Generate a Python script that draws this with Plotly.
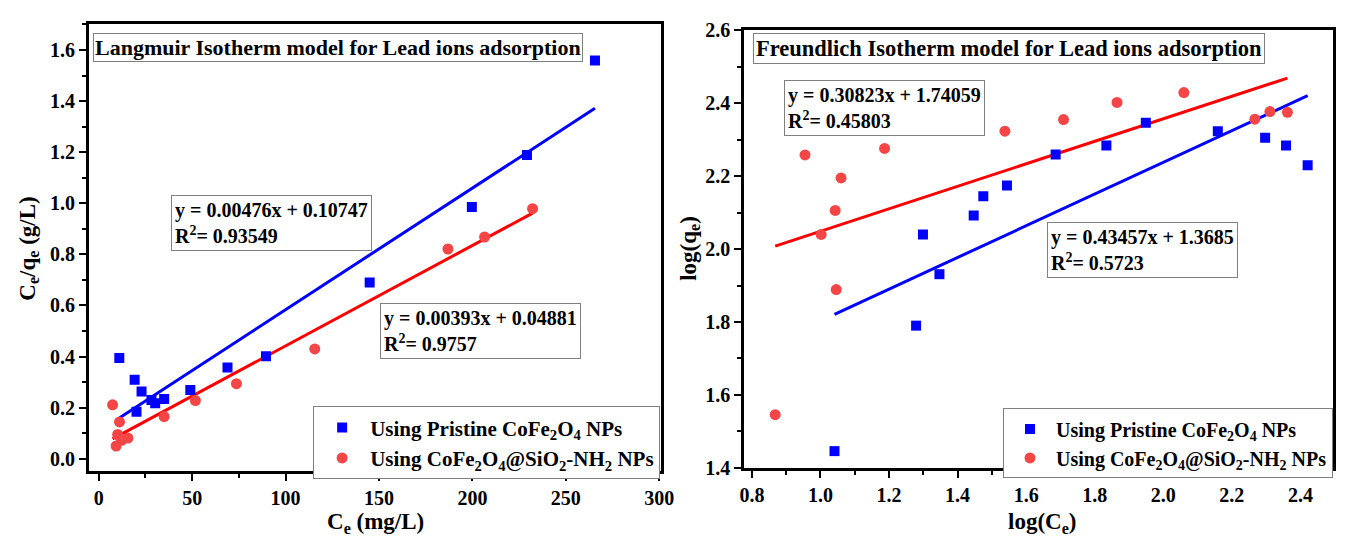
import plotly.graph_objects as go

W, H = 1347, 548

# ---------------- Langmuir data ----------------
lang_ce_pristine = [11.0, 19.2, 20.2, 22.9, 28.2, 30.2, 35.0, 49.0, 68.9, 89.5, 145.0, 199.7, 229.2, 265.6]
lang_ratio_pristine = [0.394, 0.309, 0.184, 0.263, 0.230, 0.217, 0.234, 0.269, 0.357, 0.401, 0.690, 0.985, 1.189, 1.559]
lang_ce_coated = [7.4, 11.1, 10.1, 9.3, 15.6, 12.2, 35.0, 51.7, 73.7, 115.6, 186.9, 206.5, 232.2]
lang_ratio_coated = [0.211, 0.144, 0.095, 0.050, 0.081, 0.072, 0.165, 0.228, 0.294, 0.430, 0.821, 0.868, 0.979]
lang_fit_pristine = [0.00476, 0.10747]
lang_fit_coated = [0.00393, 0.04881]

# ---------------- Freundlich data ----------------
fr_logce_pristine = [1.041, 1.279, 1.299, 1.347, 1.447, 1.475, 1.544, 1.686, 1.834, 1.949, 2.159, 2.297, 2.358, 2.421]
fr_logq_pristine = [1.446, 1.790, 2.040, 1.931, 2.092, 2.145, 2.174, 2.259, 2.284, 2.346, 2.323, 2.305, 2.284, 2.230]
fr_logce_coated = [0.868, 0.955, 1.002, 1.043, 1.046, 1.060, 1.187, 1.538, 1.709, 1.865, 2.060, 2.267, 2.311, 2.362]
fr_logq_coated = [1.546, 2.258, 2.040, 2.106, 1.889, 2.195, 2.276, 2.323, 2.355, 2.402, 2.429, 2.356, 2.377, 2.375]
fr_fit_pristine = [0.43457, 1.3685]
fr_fit_coated = [0.30823, 1.74059]

lang_ticks_x = [0, 50, 100, 150, 200, 250, 300]
lang_ticks_y = [0, 0.2, 0.4, 0.6, 0.8, 1.0, 1.2, 1.4, 1.6]
fr_ticks_x = [0.8, 1.0, 1.2, 1.4, 1.6, 1.8, 2.0, 2.2, 2.4]
fr_ticks_y = [1.4, 1.6, 1.8, 2.0, 2.2, 2.4, 2.6]

name_pristine = "Using Pristine CoFe<sub>2</sub>O<sub>4</sub> NPs"
name_coated = "Using CoFe<sub>2</sub>O<sub>4</sub>@SiO<sub>2</sub>-NH<sub>2</sub> NPs"

BLUE = "#0000FF"
RED_M = "#F44646"
RED_L = "#FF0000"
FONT = "Liberation Serif"

fig = go.Figure()


def fit_line(xs, coef):
    x0, x1 = min(xs), max(xs)
    return [x0, x1], [coef[0] * x0 + coef[1], coef[0] * x1 + coef[1]]


# Langmuir traces
lx, ly = fit_line(lang_ce_pristine, lang_fit_pristine)
fig.add_trace(go.Scatter(x=lx, y=ly, mode="lines", line=dict(color=BLUE, width=3),
                         showlegend=False, xaxis="x", yaxis="y"))
lx, ly = fit_line(lang_ce_coated, lang_fit_coated)
fig.add_trace(go.Scatter(x=lx, y=ly, mode="lines", line=dict(color=RED_L, width=3),
                         showlegend=False, xaxis="x", yaxis="y"))
fig.add_trace(go.Scatter(x=lang_ce_pristine, y=lang_ratio_pristine, mode="markers", name=name_pristine,
                         marker=dict(symbol="square", size=10, color=BLUE), xaxis="x", yaxis="y",
                         legend="legend"))
fig.add_trace(go.Scatter(x=lang_ce_coated, y=lang_ratio_coated, mode="markers", name=name_coated,
                         marker=dict(symbol="circle", size=11, color=RED_M), xaxis="x", yaxis="y",
                         legend="legend"))

# Freundlich traces
lx, ly = fit_line(fr_logce_pristine, fr_fit_pristine)
fig.add_trace(go.Scatter(x=lx, y=ly, mode="lines", line=dict(color=BLUE, width=3),
                         showlegend=False, xaxis="x2", yaxis="y2"))
lx, ly = fit_line(fr_logce_coated, fr_fit_coated)
fig.add_trace(go.Scatter(x=lx, y=ly, mode="lines", line=dict(color=RED_L, width=3),
                         showlegend=False, xaxis="x2", yaxis="y2"))
fig.add_trace(go.Scatter(x=fr_logce_pristine, y=fr_logq_pristine, mode="markers", name=name_pristine,
                         marker=dict(symbol="square", size=10, color=BLUE), xaxis="x2", yaxis="y2",
                         legend="legend2"))
fig.add_trace(go.Scatter(x=fr_logce_coated, y=fr_logq_coated, mode="markers", name=name_coated,
                         marker=dict(symbol="circle", size=11, color=RED_M), xaxis="x2", yaxis="y2",
                         legend="legend2"))

minor_common = dict(ticks="outside", ticklen=4, tickwidth=2, tickcolor="black")
axis_common = dict(showline=True, linecolor="black", linewidth=2.5, mirror=True,
                   ticks="outside", ticklen=7, tickwidth=2, tickcolor="black",
                   showgrid=False, zeroline=False,
                   tickfont=dict(family=FONT, size=20, color="black", weight="bold"))

fig.update_layout(
    width=W, height=H,
    margin=dict(l=0, r=0, t=0, b=0),
    paper_bgcolor="white", plot_bgcolor="white",
    font=dict(family=FONT, color="black", weight="bold"),
    xaxis=dict(domain=[85 / W, 665 / W], anchor="y", range=[-5.3, 301],
               tickvals=lang_ticks_x, minor=dict(dtick=25, **minor_common), **axis_common),
    yaxis=dict(domain=[1 - 479 / H, 1 - 14 / H], anchor="x", range=[-0.047, 1.70],
               tickvals=lang_ticks_y, ticktext=[f"{v:.1f}" for v in lang_ticks_y],
               minor=dict(dtick=0.1, **minor_common), **axis_common),
    xaxis2=dict(domain=[749 / W, 1346 / W], anchor="y2", range=[0.777, 2.495],
                tickvals=fr_ticks_x, ticktext=[f"{v:.1f}" for v in fr_ticks_x],
                minor=dict(dtick=0.1, **minor_common), **axis_common),
    yaxis2=dict(domain=[1 - 476 / H, 1 - 20 / H], anchor="x2", range=[1.4, 2.6],
                tickvals=fr_ticks_y, ticktext=[f"{v:.1f}" for v in fr_ticks_y],
                minor=dict(dtick=0.1, **minor_common), **axis_common),
    legend=dict(x=664 / W, y=1 - 412 / H, xanchor="right", yanchor="top",
                bgcolor="white", bordercolor="#808080", borderwidth=1, itemwidth=46,
                font=dict(family=FONT, size=21, color="black", weight="bold"),
                tracegroupgap=0),
    legend2=dict(x=1346 / W, y=1 - 414 / H, xanchor="right", yanchor="top",
                 bgcolor="white", bordercolor="#808080", borderwidth=1, itemwidth=42,
                 font=dict(family=FONT, size=20, color="black", weight="bold"),
                 tracegroupgap=0),
)


def box(text, x0, y0, size=20, pad=3):
    fig.add_annotation(text=text, xref="paper", yref="paper", x=x0 / W, y=1 - y0 / H,
                       xanchor="left", yanchor="top", align="left", showarrow=False,
                       bordercolor="#808080", borderwidth=1, borderpad=pad, bgcolor="white",
                       font=dict(family=FONT, size=size, color="black", weight="bold"))


def label(text, xc, yc, angle=0, size=23):
    fig.add_annotation(text=text, xref="paper", yref="paper", x=xc / W, y=1 - yc / H,
                       xanchor="center", yanchor="middle", showarrow=False, textangle=angle,
                       font=dict(family=FONT, size=size, color="black", weight="bold"))


box("Langmuir Isotherm model for Lead ions adsorption", 89, 23, size=22, pad=1)
box("y = 0.00476x + 0.10747<br>R<sup>2</sup>= 0.93549", 168, 192)
box("y = 0.00393x + 0.04881<br>R<sup>2</sup>= 0.9757", 380, 304)
box("Freundlich Isotherm model for Lead ions adsorption", 758, 23, size=22.5, pad=2)
box("y = 0.30823x + 1.74059<br>R<sup>2</sup>= 0.45803", 790, 72)
box("y = 0.43457x + 1.3685<br>R<sup>2</sup>= 0.5723", 1056, 220)

label("C<sub>e</sub> (mg/L)", 376, 533)
label("C<sub>e</sub>/q<sub>e</sub> (g/L)", 24, 248, angle=-90)
label("log(C<sub>e</sub>)", 1052, 533)
label("log(q<sub>e</sub>)", 694, 247, angle=-90)

fig.write_html("out.html")
